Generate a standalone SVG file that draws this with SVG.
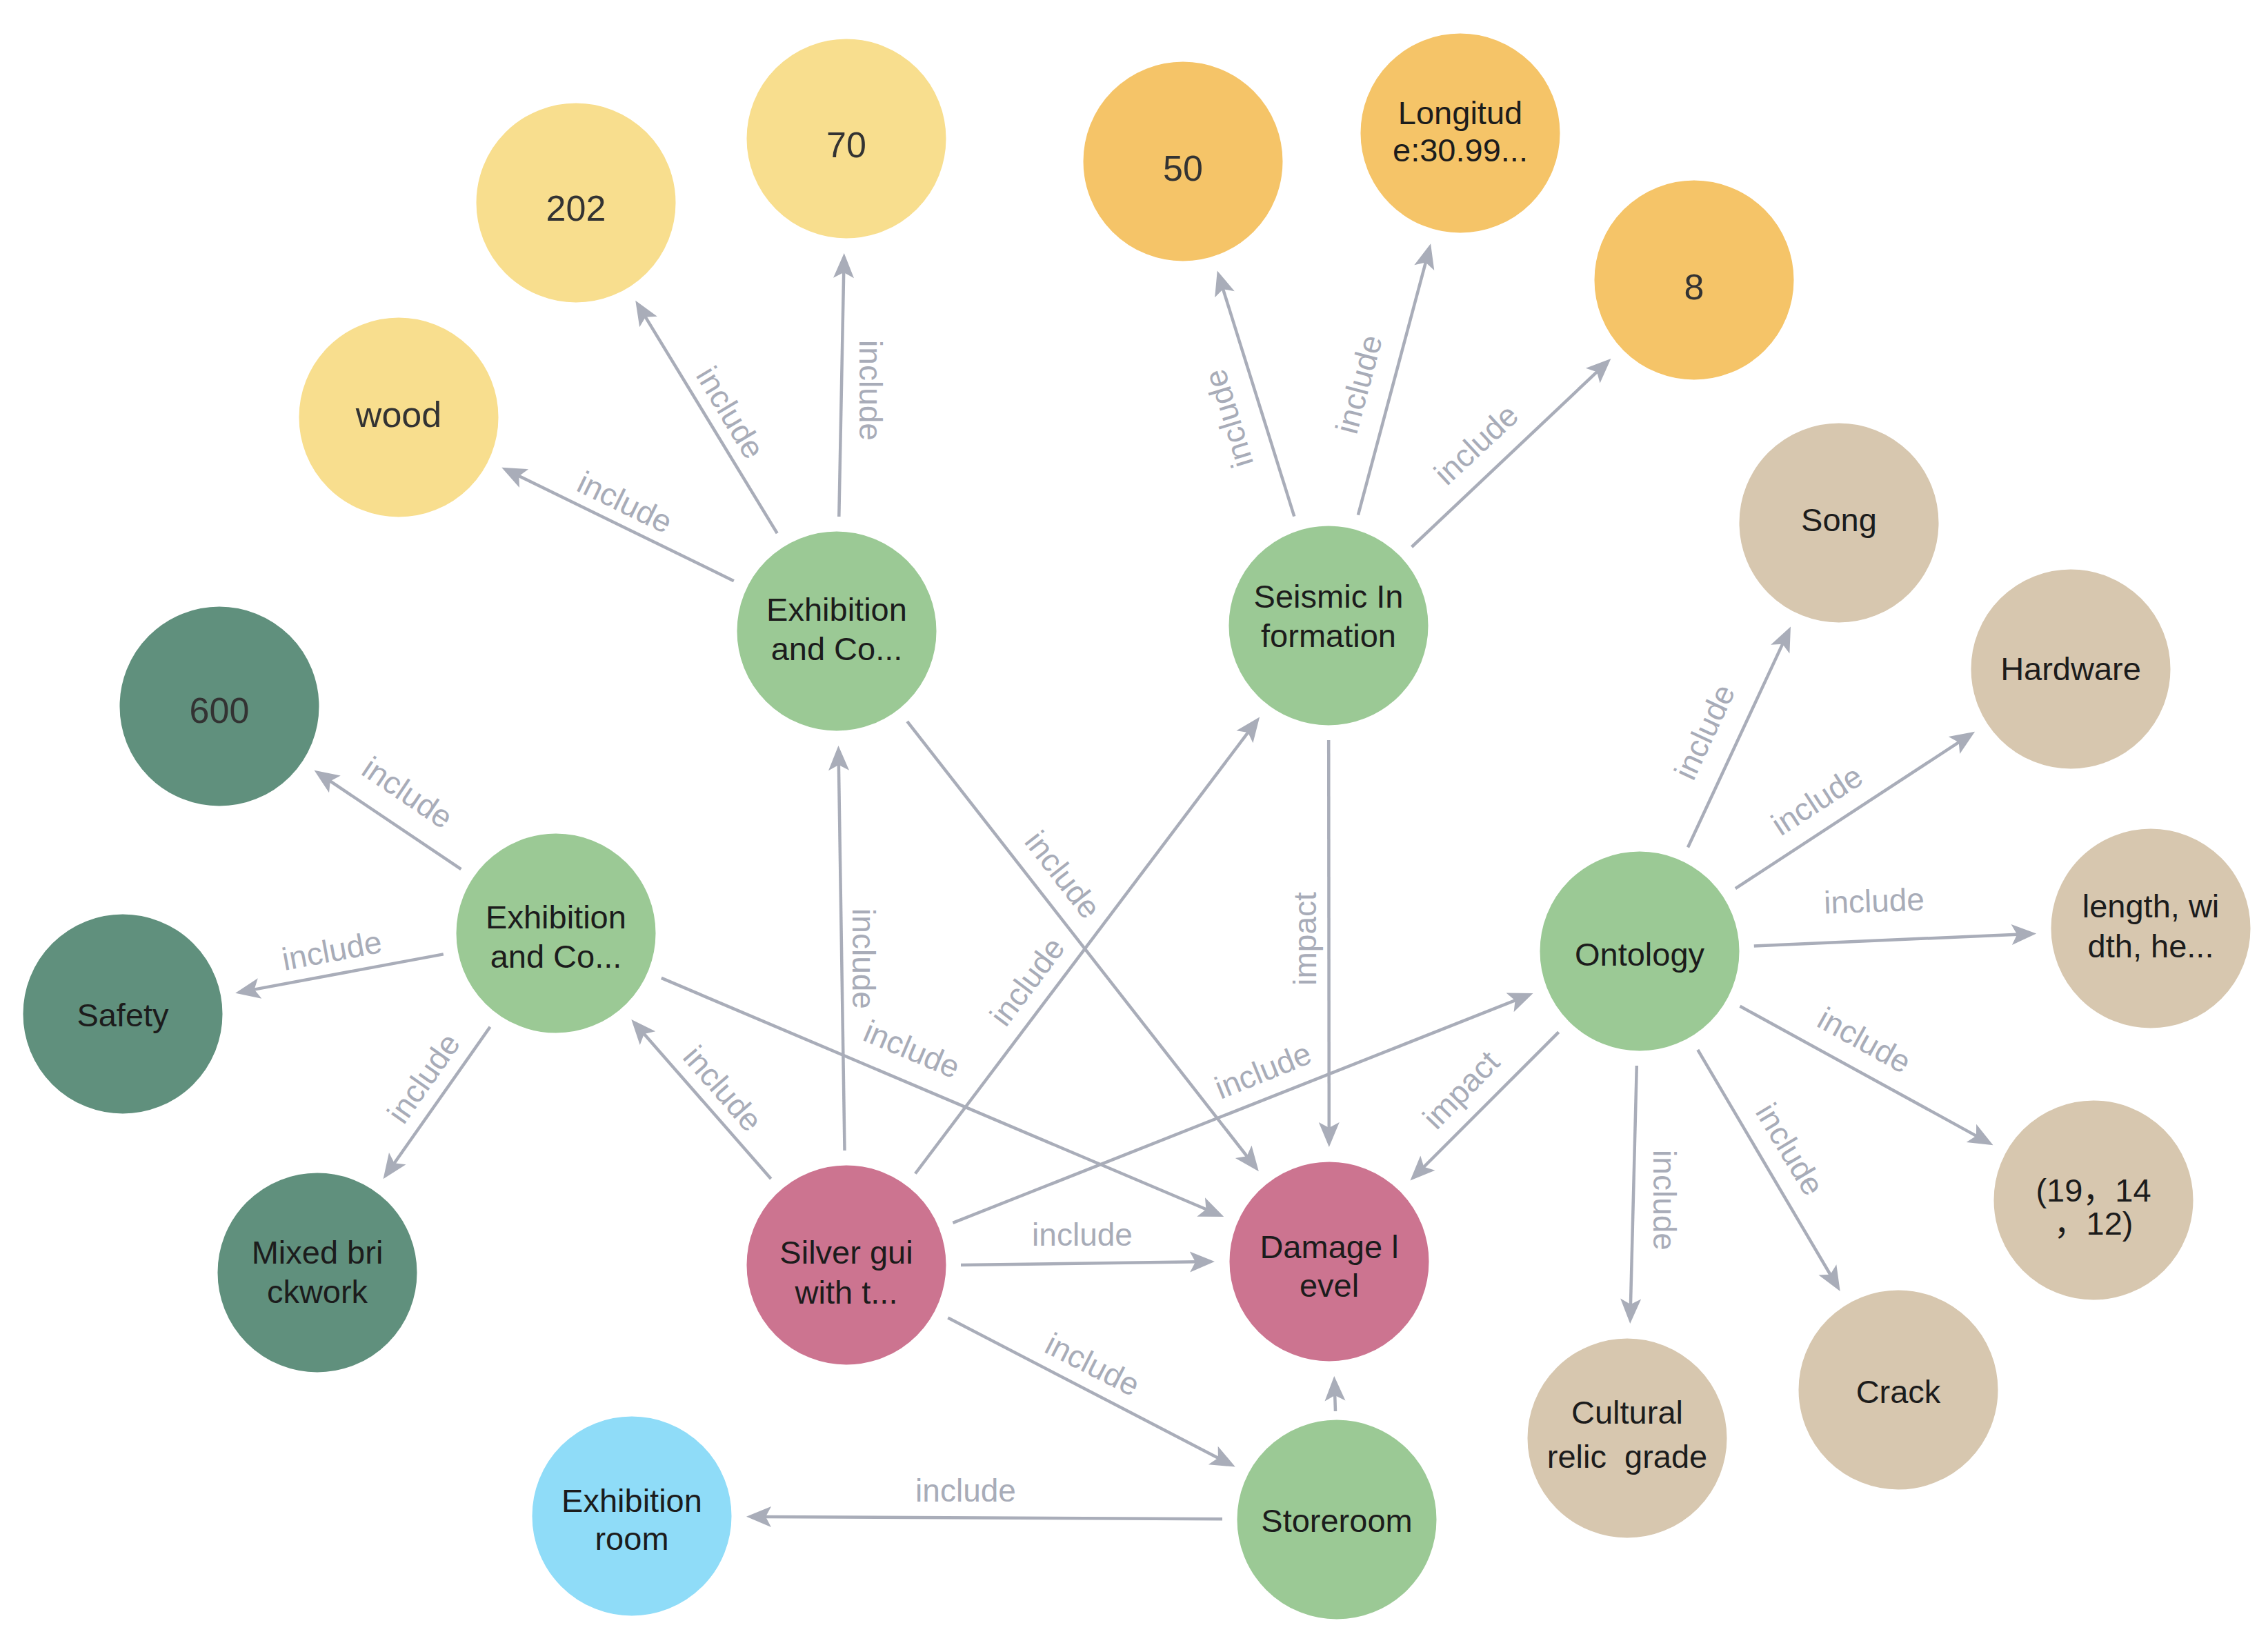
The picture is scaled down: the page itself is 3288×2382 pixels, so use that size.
<svg xmlns="http://www.w3.org/2000/svg" width="3288" height="2382" viewBox="0 0 3288 2382">
<style>
.e{stroke:#A9ADB9;stroke-width:4.5;fill:none;marker-end:url(#arr)}
.el{font-family:"Liberation Sans","Noto Sans CJK SC",Arial,sans-serif;font-size:46px;fill:#A8ACB8;text-anchor:middle;dominant-baseline:central}
.t{font-family:"Liberation Sans","Noto Sans CJK SC",Arial,sans-serif;font-size:47px;fill:#1c1c1c;text-anchor:middle}
.num{font-size:52px;fill:#333333}
.yl{fill:#F8DE8E}
.or{fill:#F5C468}
.tn{fill:#D7C7AF}
.lg{fill:#9BC995}
.dg{fill:#60907D}
.pk{fill:#CC7490}
.bl{fill:#8FDCF8}
circle{stroke:#ffffff;stroke-width:3}
</style>
<defs>
<marker id="arr" markerUnits="userSpaceOnUse" viewBox="-16 -16 40 32" markerWidth="40" markerHeight="32" refX="0" refY="0" orient="auto">
<path d="M22,0 L-14,-15 L-6,0 L-14,15 Z" fill="#A9ADB9"/>
</marker>
</defs>
<rect width="3288" height="2382" fill="#ffffff"/>
<g id="connectors">
<line class="e" x1="1063.8" y1="842.2" x2="747.0" y2="687.5"/>
<line class="e" x1="1126.7" y1="773.2" x2="932.7" y2="454.6"/>
<line class="e" x1="1216.3" y1="749.0" x2="1223.3" y2="389.0"/>
<line class="e" x1="1315.2" y1="1045.8" x2="1811.3" y2="1680.9"/>
<line class="e" x1="1876.3" y1="748.6" x2="1771.3" y2="413.4"/>
<line class="e" x1="1968.9" y1="746.6" x2="2068.4" y2="374.6"/>
<line class="e" x1="2046.6" y1="793.0" x2="2319.4" y2="535.1"/>
<line class="e" x1="1926.2" y1="1073" x2="1926.8" y2="1641"/>
<line class="e" x1="2447.0" y1="1228.5" x2="2586.7" y2="928.4"/>
<line class="e" x1="2515.9" y1="1288.1" x2="2844.7" y2="1072.9"/>
<line class="e" x1="2542.8" y1="1371.6" x2="2930.2" y2="1354.4"/>
<line class="e" x1="2522.5" y1="1458.8" x2="2870.2" y2="1649.6"/>
<line class="e" x1="2461.3" y1="1522.0" x2="2656.5" y2="1853.0"/>
<line class="e" x1="2372.8" y1="1545.0" x2="2363.8" y2="1897.0"/>
<line class="e" x1="2259.6" y1="1496.4" x2="2060.0" y2="1696.0"/>
<line class="e" x1="668.4" y1="1260.2" x2="473.8" y2="1129.1"/>
<line class="e" x1="642.8" y1="1383.4" x2="362.8" y2="1435.6"/>
<line class="e" x1="710.5" y1="1488.8" x2="568.2" y2="1691.2"/>
<line class="e" x1="958.8" y1="1417.9" x2="1754.0" y2="1755.5"/>
<line class="e" x1="1117.7" y1="1709.1" x2="929.8" y2="1494.5"/>
<line class="e" x1="1224.5" y1="1668.0" x2="1215.8" y2="1103.0"/>
<line class="e" x1="1326.9" y1="1701.5" x2="1812.9" y2="1057.1"/>
<line class="e" x1="1381.4" y1="1772.9" x2="2202.1" y2="1448.2"/>
<line class="e" x1="1393" y1="1833.9" x2="1739" y2="1829.3"/>
<line class="e" x1="1374.3" y1="1910.5" x2="1771.2" y2="2116.4"/>
<line class="e" x1="1772" y1="2202.2" x2="1104" y2="2198.9"/>
<line class="e" x1="1936" y1="2046" x2="1935" y2="2017"/>
<text class="el" transform="translate(906,728) rotate(26)">include</text>
<text class="el" transform="translate(1059,598) rotate(59)">include</text>
<text class="el" transform="translate(1262,566) rotate(90)">include</text>
<text class="el" transform="translate(1541,1268) rotate(52)">include</text>
<text class="el" transform="translate(1781,607) rotate(-107)">include</text>
<text class="el" transform="translate(1970,557) rotate(-75)">include</text>
<text class="el" transform="translate(2140,644) rotate(-43)">include</text>
<text class="el" transform="translate(1892,1361) rotate(-90)">impact</text>
<text class="el" transform="translate(2471,1061) rotate(-65)">include</text>
<text class="el" transform="translate(2634,1160) rotate(-33)">include</text>
<text class="el" transform="translate(2717,1306) rotate(-2)">include</text>
<text class="el" transform="translate(2703,1508) rotate(29)">include</text>
<text class="el" transform="translate(2595,1666) rotate(59)">include</text>
<text class="el" transform="translate(2413,1740) rotate(90)">include</text>
<text class="el" transform="translate(2118,1580) rotate(-46)">impact</text>
<text class="el" transform="translate(591,1149) rotate(34)">include</text>
<text class="el" transform="translate(481,1378) rotate(-10.5)">include</text>
<text class="el" transform="translate(614,1563) rotate(-55)">include</text>
<text class="el" transform="translate(1322,1521) rotate(23)">include</text>
<text class="el" transform="translate(1048,1578) rotate(49)">include</text>
<text class="el" transform="translate(1252,1390) rotate(90)">include</text>
<text class="el" transform="translate(1489,1423) rotate(-53)">include</text>
<text class="el" transform="translate(1831,1552) rotate(-22)">include</text>
<text class="el" transform="translate(1569,1790)">include</text>
<text class="el" transform="translate(1584,1978) rotate(27)">include</text>
<text class="el" transform="translate(1400,2161)">include</text>
</g>
<g id="node-wood"><circle class="yl" cx="578" cy="605" r="146"/><text class="t num" x="578" y="619">wood</text></g>
<g id="node-202"><circle class="yl" cx="835" cy="294" r="146"/><text class="t num" x="835" y="320">202</text></g>
<g id="node-70"><circle class="yl" cx="1227" cy="201" r="146"/><text class="t num" x="1227" y="228">70</text></g>
<g id="node-50"><circle class="or" cx="1715" cy="234" r="146"/><text class="t num" x="1715" y="262">50</text></g>
<g id="node-longitude"><circle class="or" cx="2117" cy="193" r="146"/><text class="t" x="2117" y="180">Longitud</text><text class="t" x="2117" y="234">e:30.99...</text></g>
<g id="node-8"><circle class="or" cx="2456" cy="406" r="146"/><text class="t num" x="2456" y="434">8</text></g>
<g id="node-song"><circle class="tn" cx="2666" cy="758" r="146"/><text class="t" x="2666" y="770">Song</text></g>
<g id="node-hardware"><circle class="tn" cx="3002" cy="970" r="146"/><text class="t" x="3002" y="986">Hardware</text></g>
<g id="node-length"><circle class="tn" cx="3118" cy="1346" r="146"/><text class="t" x="3118" y="1330">length, wi</text><text class="t" x="3118" y="1388">dth, he...</text></g>
<g id="node-dims"><circle class="tn" cx="3035" cy="1740" r="146"/><text class="t" x="3035" y="1742">(19，14</text><text class="t" x="3035" y="1790">，12)</text></g>
<g id="node-crack"><circle class="tn" cx="2752" cy="2015" r="146"/><text class="t" x="2752" y="2034">Crack</text></g>
<g id="node-cultural"><circle class="tn" cx="2359" cy="2085" r="146"/><text class="t" x="2359" y="2064">Cultural</text><text class="t" x="2359" y="2128" xml:space="preserve">relic  grade</text></g>
<g id="node-ontology"><circle class="lg" cx="2377" cy="1379" r="146"/><text class="t" x="2377" y="1400">Ontology</text></g>
<g id="node-seismic"><circle class="lg" cx="1926" cy="907" r="146"/><text class="t" x="1926" y="881">Seismic In</text><text class="t" x="1926" y="938">formation</text></g>
<g id="node-exhibition-top"><circle class="lg" cx="1213" cy="915" r="146"/><text class="t" x="1213" y="900">Exhibition</text><text class="t" x="1213" y="957">and Co...</text></g>
<g id="node-exhibition-left"><circle class="lg" cx="806" cy="1353" r="146"/><text class="t" x="806" y="1346">Exhibition</text><text class="t" x="806" y="1403">and Co...</text></g>
<g id="node-600"><circle class="dg" cx="318" cy="1024" r="146"/><text class="t num" x="318" y="1048">600</text></g>
<g id="node-safety"><circle class="dg" cx="178" cy="1470" r="146"/><text class="t" x="178" y="1488">Safety</text></g>
<g id="node-mixed"><circle class="dg" cx="460" cy="1845" r="146"/><text class="t" x="460" y="1832">Mixed bri</text><text class="t" x="460" y="1889">ckwork</text></g>
<g id="node-silver"><circle class="pk" cx="1227" cy="1834" r="146"/><text class="t" x="1227" y="1832">Silver gui</text><text class="t" x="1227" y="1890">with t...</text></g>
<g id="node-damage"><circle class="pk" cx="1927" cy="1829" r="146"/><text class="t" x="1927" y="1824">Damage l</text><text class="t" x="1927" y="1880">evel</text></g>
<g id="node-storeroom"><circle class="lg" cx="1938" cy="2203" r="146"/><text class="t" x="1938" y="2221">Storeroom</text></g>
<g id="node-exhibition-room"><circle class="bl" cx="916" cy="2198" r="146"/><text class="t" x="916" y="2192">Exhibition</text><text class="t" x="916" y="2247">room</text></g>
</svg>
